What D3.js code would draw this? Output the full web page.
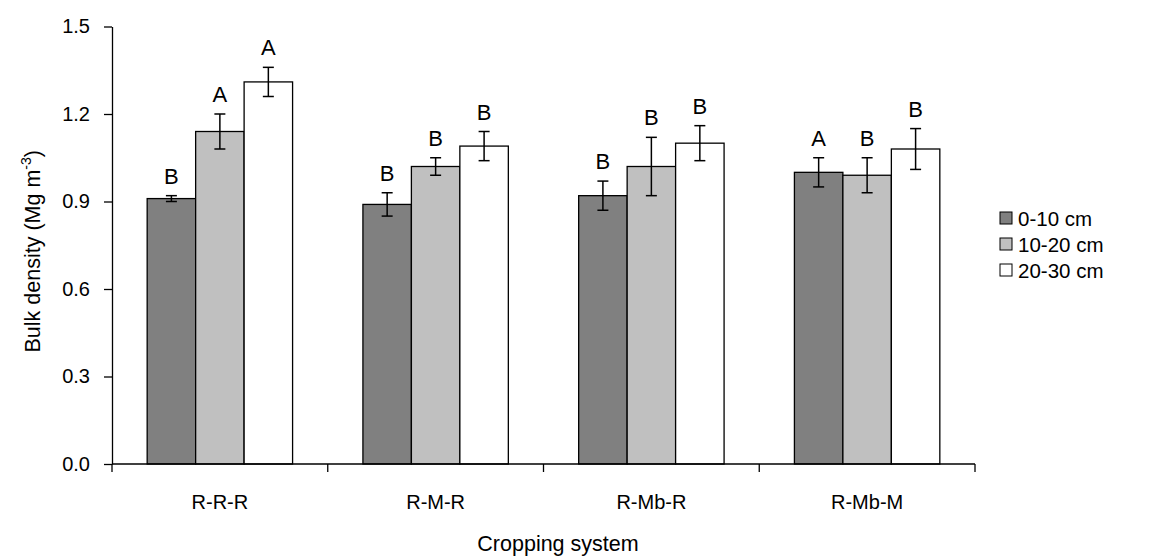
<!DOCTYPE html>
<html>
<head>
<meta charset="utf-8">
<script src="https://cdn.jsdelivr.net/npm/d3@7"></script>
<style>
  html, body { margin: 0; padding: 0; background: #fff; }
  svg { display: block; font-family: "Liberation Sans", Arial, sans-serif; }
</style>
</head>
<body>
<svg id="chart" width="1153" height="557"></svg>
<script>
// Bulk density by cropping system and soil depth
const systems = ["R-R-R", "R-M-R", "R-Mb-R", "R-Mb-M"];
const depths = ["0-10 cm", "10-20 cm", "20-30 cm"];
const fills = ["#808080", "#c0c0c0", "#ffffff"];

const meanShallow = [0.91, 0.89, 0.92, 1.00];
const meanMiddle  = [1.14, 1.02, 1.02, 0.99];
const meanDeep    = [1.31, 1.09, 1.10, 1.08];

const errShallow = [0.01, 0.04, 0.05, 0.05];
const errMiddle  = [0.06, 0.03, 0.10, 0.06];
const errDeep    = [0.05, 0.05, 0.06, 0.07];

const letterShallow = ["B", "B", "B", "A"];
const letterMiddle  = ["A", "B", "B", "B"];
const letterDeep    = ["A", "B", "B", "B"];

const yTicks = [0, 0.3, 0.6, 0.9, 1.2, 1.5];

const means = [meanShallow, meanMiddle, meanDeep];
const errs = [errShallow, errMiddle, errDeep];
const letters = [letterShallow, letterMiddle, letterDeep];

const rows = [];
systems.forEach((s, i) => {
  depths.forEach((d, j) => {
    rows.push({ system: s, depth: d, idx: j, value: means[j][i], err: errs[j][i], letter: letters[j][i] });
  });
});

const svg = d3.select("#chart");
const plotLeft = 112, plotRight = 975, plotTop = 26.5, plotBottom = 464;

const x0 = d3.scaleBand().domain(systems).range([plotLeft, plotRight])
  .paddingInner(0.326).paddingOuter(0.163);
const x1 = d3.scaleBand().domain(depths).range([0, x0.bandwidth()]);
const y = d3.scaleLinear().domain([0, 1.5]).range([plotBottom, plotTop]);

const cx = d => x0(d.system) + x1(d.depth) + x1.bandwidth() / 2;

// bars
const g = svg.append("g");
g.selectAll("rect.bar").data(rows).join("rect")
  .attr("class", "bar")
  .attr("x", d => x0(d.system) + x1(d.depth))
  .attr("y", d => y(d.value))
  .attr("width", x1.bandwidth())
  .attr("height", d => y(0) - y(d.value))
  .attr("fill", d => fills[d.idx])
  .attr("stroke", "#000")
  .attr("stroke-width", 1.3);

// error bars
const cap = 5.5;
const eb = g.selectAll("g.err").data(rows).join("g").attr("class", "err")
  .attr("stroke", "#000").attr("stroke-width", 1.5);
eb.append("line")
  .attr("x1", cx).attr("x2", cx)
  .attr("y1", d => y(d.value + d.err))
  .attr("y2", d => y(d.value - d.err));
eb.append("line")
  .attr("x1", d => cx(d) - cap).attr("x2", d => cx(d) + cap)
  .attr("y1", d => y(d.value + d.err))
  .attr("y2", d => y(d.value + d.err));
eb.append("line")
  .attr("x1", d => cx(d) - cap).attr("x2", d => cx(d) + cap)
  .attr("y1", d => y(d.value - d.err))
  .attr("y2", d => y(d.value - d.err));

// significance letters
g.selectAll("text.letter").data(rows).join("text")
  .attr("class", "letter")
  .attr("x", cx)
  .attr("y", d => y(d.value + d.err) - 12)
  .attr("text-anchor", "middle")
  .attr("font-size", 22)
  .attr("fill", "#000")
  .text(d => d.letter);

// y axis
const yAxis = svg.append("g")
  .attr("transform", `translate(${plotLeft},0)`)
  .call(d3.axisLeft(y).tickValues(yTicks).tickFormat(d3.format(".1f")).tickSize(8).tickSizeOuter(0).tickPadding(14));
yAxis.select(".domain").attr("stroke", "#000").attr("stroke-width", 1.3);
yAxis.selectAll(".tick line").attr("stroke", "#000").attr("stroke-width", 1.3);
yAxis.selectAll(".tick text").attr("font-size", 20).attr("fill", "#000")
  .attr("font-family", "Liberation Sans, Arial, sans-serif");

// x axis: line along the baseline with ticks at group boundaries
const xAxis = svg.append("g");
xAxis.append("line")
  .attr("x1", plotLeft).attr("x2", plotRight)
  .attr("y1", y(0)).attr("y2", y(0))
  .attr("stroke", "#000").attr("stroke-width", 1.3);
const bounds = systems.map(s => x0(s) - x0.step() * x0.paddingInner() / 2).concat([plotRight]);
xAxis.selectAll("line.tick").data(bounds).join("line")
  .attr("class", "tick")
  .attr("x1", d => d).attr("x2", d => d)
  .attr("y1", y(0)).attr("y2", y(0) + 8)
  .attr("stroke", "#000").attr("stroke-width", 1.3);
xAxis.selectAll("text.cat").data(systems).join("text")
  .attr("class", "cat")
  .attr("x", d => x0(d) + x0.bandwidth() / 2)
  .attr("y", 509)
  .attr("text-anchor", "middle")
  .attr("font-size", 20)
  .attr("fill", "#000")
  .text(d => d);

// axis titles
svg.append("text")
  .attr("x", 558).attr("y", 551)
  .attr("text-anchor", "middle")
  .attr("font-size", 21.5)
  .text("Cropping system");

const yt = svg.append("text")
  .attr("transform", `translate(40,${(plotTop + plotBottom) / 2 + 6}) rotate(-90)`)
  .attr("text-anchor", "middle")
  .attr("font-size", 21.5);
yt.append("tspan").text("Bulk density (Mg m");
yt.append("tspan").attr("dy", -9).attr("font-size", 14).text("-3");
yt.append("tspan").attr("dy", 9).text(")");

// legend
const legend = svg.append("g").attr("transform", "translate(1000,218)");
const li = legend.selectAll("g").data(depths).join("g")
  .attr("transform", (d, i) => `translate(0,${i * 26})`);
li.append("rect")
  .attr("x", 0).attr("y", -6).attr("width", 12).attr("height", 12)
  .attr("fill", (d, i) => fills[i]).attr("stroke", "#000").attr("stroke-width", 1);
li.append("text")
  .attr("x", 18).attr("y", 7.5)
  .attr("font-size", 20.5)
  .text(d => d);
</script>
</body>
</html>
